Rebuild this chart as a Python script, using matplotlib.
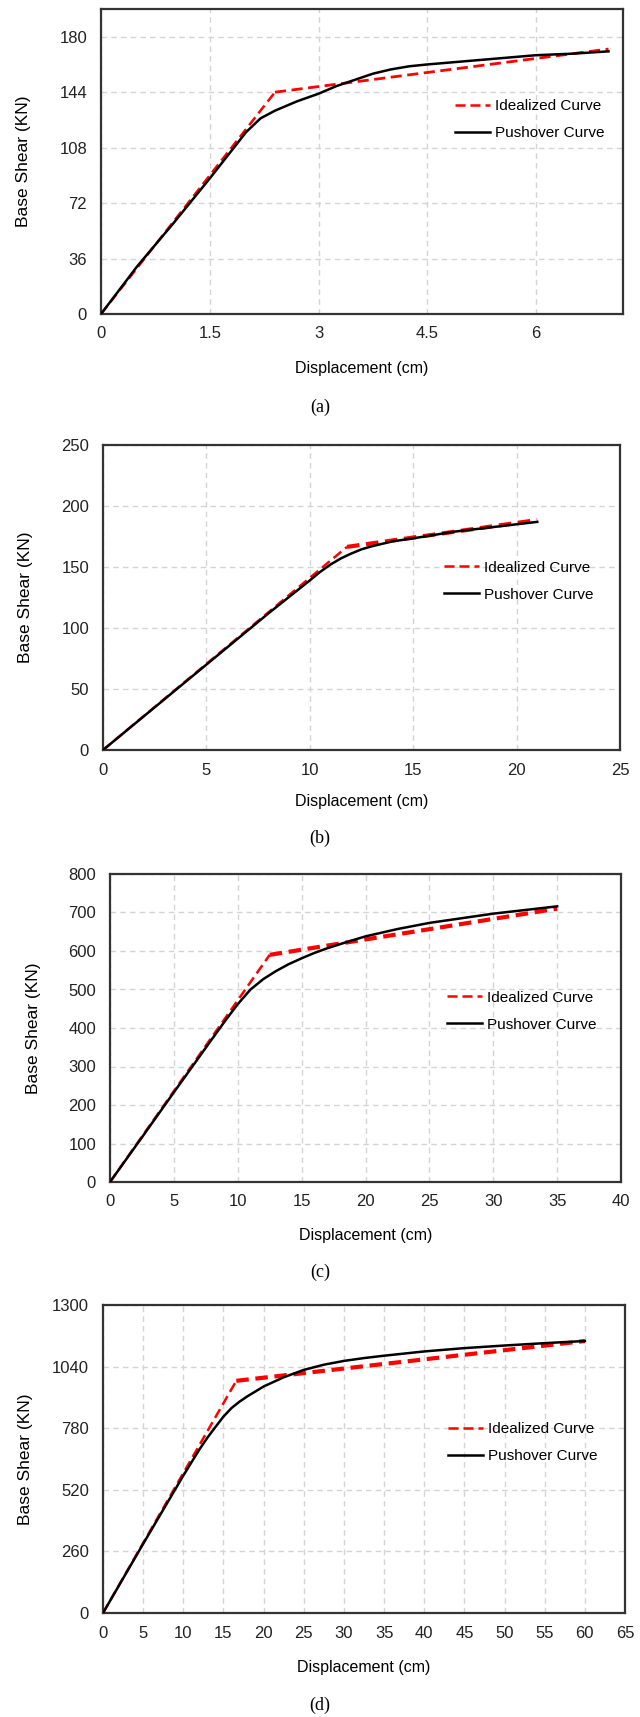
import matplotlib
matplotlib.use("Agg")
import matplotlib.pyplot as plt

plt.rcParams['font.family'] = ['Liberation Sans', 'DejaVu Sans']

# panel (a)
push_a_x = [0, 0.5, 1.0, 1.5, 1.8, 2.0, 2.2, 2.4, 2.7, 3.0, 3.25, 3.5, 3.75, 4.0, 4.25, 4.5, 5.0, 5.5, 6.0, 6.5, 7.0]
push_a_y = [0, 31, 59, 88, 106, 118, 127, 132, 138, 143, 148, 152, 156, 158.8, 160.8, 162, 164, 166, 168, 169, 170.5]
ideal_a_x = [0, 2.4, 7.0]
ideal_a_y = [0, 144, 172]

# panel (b)
push_b_x = [0, 2, 4, 6, 8, 10, 10.5, 11, 11.5, 12, 12.5, 13, 14, 15, 17, 19, 21]
push_b_y = [0, 28, 56, 84, 112, 139, 146, 152, 157, 161, 164.5, 167, 171, 173.5, 179, 183, 187]
ideal_b_x = [0, 11.8, 21]
ideal_b_y = [0, 166.5, 188.5]

# panel (c)
push_c_x = [0, 2.5, 5, 8, 9, 10, 11, 12, 13, 14, 15, 16, 17, 18.5, 20, 22.5, 25, 30, 35]
push_c_y = [0, 116, 233, 372, 418, 462, 500, 527, 548, 566, 581, 595, 607, 623, 638, 657, 673, 697, 716]
ideal_c_x = [0, 12.5, 35]
ideal_c_y = [0, 590, 710]

# panel (d)
push_d_x = [0, 5, 10, 12, 13, 14, 15, 16, 17, 18, 20, 22.5, 25, 27.5, 30, 32.5, 35, 40, 45, 50, 55, 60]
push_d_y = [0, 292, 580, 690, 740, 785, 829, 865, 892, 915, 956, 995, 1026, 1048, 1064, 1076, 1086, 1104, 1118, 1129, 1139, 1148]
ideal_d_x = [0, 16.6, 60]
ideal_d_y = [0, 980, 1148]

panels = [
    # data, xlim, xstep, ylim, ystep, axes box (px), xlabel y, caption, caption y, legend anchor, seg2 width
    (push_a_x, push_a_y, ideal_a_x, ideal_a_y, 7.2, 1.5, 198, 36, (101, 9, 623, 314), -0.154, "(a)", 407, (0.678, 0.638), 2.0),
    (push_b_x, push_b_y, ideal_b_x, ideal_b_y, 25, 5, 250, 50, (103, 445, 620, 750), -0.144, "(b)", 838, (0.66, 0.554), 3.0),
    (push_c_x, push_c_y, ideal_c_x, ideal_c_y, 40, 5, 800, 100, (110, 874, 621, 1182), -0.149, "(c)", 1272, (0.66, 0.555), 3.0),
    (push_d_x, push_d_y, ideal_d_x, ideal_d_y, 65, 5, 1300, 260, (103, 1305, 625, 1613), -0.153, "(d)", 1705, (0.661, 0.554), 3.0),
]

W, H = 640, 1717
fig = plt.figure(figsize=(W / 100, H / 100), dpi=100)

for px, py, ix, iy, xmax, xstep, ymax, ystep, box, xl_y, cap, cap_y, leg, lw2 in panels:
    x0, y0, x1, y1 = box
    ax = fig.add_axes([x0 / W, 1 - y1 / H, (x1 - x0) / W, (y1 - y0) / H])
    ax.plot(ix[:2], iy[:2], color='red', ls='--', lw=1.8, dashes=(4, 2), label='Idealized Curve', zorder=3)
    ax.plot(ix[1:], iy[1:], color='red', ls='--', lw=lw2, dashes=(4, 2) if lw2 < 2.5 else (3, 1.6), zorder=3)
    ax.plot(px, py, color='black', lw=1.8, label='Pushover Curve', zorder=4)

    ax.set_xlim(0, xmax)
    ax.set_ylim(0, ymax)
    xt = [i * xstep for i in range(int(xmax / xstep + 1e-6) + 1)]
    ax.set_xticks(xt)
    ax.set_xticklabels([('%g' % v) for v in xt])
    yt = [i * ystep for i in range(int(ymax / ystep + 1e-6) + 1)]
    ax.set_yticks(yt)
    ax.grid(True, color='#d4d4d4', ls=(0, (4, 3)), lw=1.0)
    ax.set_axisbelow(True)
    ax.tick_params(length=0, labelsize=12, colors='#222222')
    ax.tick_params(axis='x', pad=9)
    ax.tick_params(axis='y', pad=10)
    for s in ax.spines.values():
        s.set_color('#333333')
        s.set_linewidth(1.6)

    ax.set_ylabel('Base Shear (KN)', fontsize=12.5)
    ax.yaxis.set_label_coords(-0.135, 0.5)
    ax.set_xlabel('Displacement (cm)', fontsize=11.5)
    ax.xaxis.set_label_coords(0.5, xl_y)

    ax.legend(loc='center left', bbox_to_anchor=leg, frameon=False, fontsize=11,
              handlelength=2.3, handletextpad=0.3, labelspacing=0.85,
              borderpad=0, borderaxespad=0)

    fig.text(0.5, 1 - cap_y / H, cap, ha='center', va='center', fontsize=13,
             family=['Liberation Serif', 'DejaVu Serif'])

fig.savefig('out.png', dpi=100)
